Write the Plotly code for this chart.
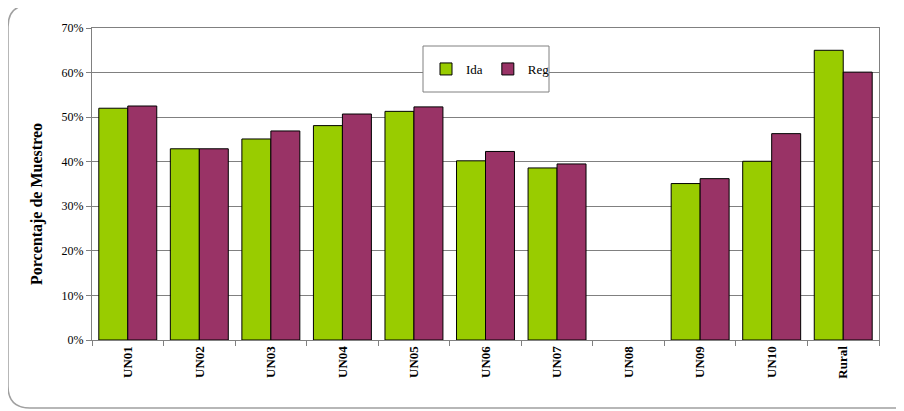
import plotly.graph_objects as go

categories = ["UN01", "UN02", "UN03", "UN04", "UN05", "UN06", "UN07", "UN08", "UN09", "UN10", "Rural"]
ida = [52.0, 42.9, 45.1, 48.1, 51.3, 40.2, 38.6, None, 35.1, 40.1, 65.0]
reg = [52.5, 42.9, 46.9, 50.7, 52.3, 42.3, 39.5, None, 36.2, 46.3, 60.1]

OFF = 8  # page body margin
W, H = 904 - OFF, 411 - OFF
L, R, T, B = 92 - OFF, 25, 28 - OFF, 71
pw, ph = W - L - R, H - T - B

def px(x):
    return (x - OFF - L) / pw

def py(y):
    return (H - B - (y - OFF)) / ph

font = "Liberation Serif, Times New Roman, serif"
fig = go.Figure()
fig.add_trace(go.Bar(name="Ida", x=categories, y=ida, marker=dict(color="#99CC00", line=dict(color="#000000", width=1))))
fig.add_trace(go.Bar(name="Reg", x=categories, y=reg, marker=dict(color="#993366", line=dict(color="#000000", width=1))))

r = 22
x0, y0, x1, y1 = 8, 5, 912, 408
path = (f"M {px(x1)} {py(y0)} L {px(x0 + r)} {py(y0)} Q {px(x0)} {py(y0)} {px(x0)} {py(y0 + r)} "
        f"L {px(x0)} {py(y1 - r)} Q {px(x0)} {py(y1)} {px(x0 + r)} {py(y1)} L {px(x1)} {py(y1)}")

fig.update_layout(
    width=W, height=H,
    margin=dict(l=L, r=R, t=T, b=B),
    paper_bgcolor="white", plot_bgcolor="white",
    barmode="group", bargap=0.19, bargroupgap=0,
    font=dict(family=font, size=12, color="#000000"),
    showlegend=True,
    legend=dict(orientation="h", x=px(426), y=py(69), xanchor="left", yanchor="middle",
                bgcolor="rgba(0,0,0,0)", borderwidth=0,
                font=dict(family=font, size=13), itemwidth=30),
    shapes=[
        dict(type="path", path=path, xref="paper", yref="paper",
             line=dict(color="#A0A0A0", width=1.5), layer="below"),
        dict(type="rect", xref="paper", yref="paper", x0=px(423), x1=px(549), y0=py(92), y1=py(46),
             line=dict(color="#808080", width=1), fillcolor="white", layer="above"),
    ],
    annotations=[
        dict(text="<b>Porcentaje de Muestreo</b>", textangle=-90, xref="paper", yref="paper",
             x=px(37), y=py(204), xanchor="center", yanchor="middle", showarrow=False,
             font=dict(family=font, size=16, color="#000000")),
    ],
)
fig.update_xaxes(
    showline=True, linecolor="#808080", linewidth=1, mirror=True,
    ticks="outside", ticklen=5, tickcolor="#808080", tickson="boundaries",
    tickangle=-90, tickfont=dict(family=font, size=13, color="#000000"),
    tickprefix="<b>", ticksuffix="</b>",
    showgrid=False,
)
fig.update_yaxes(
    range=[0, 70], dtick=10, ticksuffix="%",
    showline=True, linecolor="#808080", linewidth=1, mirror=True,
    ticks="outside", ticklen=5, tickcolor="#808080",
    showgrid=True, gridcolor="#808080", gridwidth=1,
    tickfont=dict(family=font, size=12, color="#000000"),
)
fig.write_html("out.html")
